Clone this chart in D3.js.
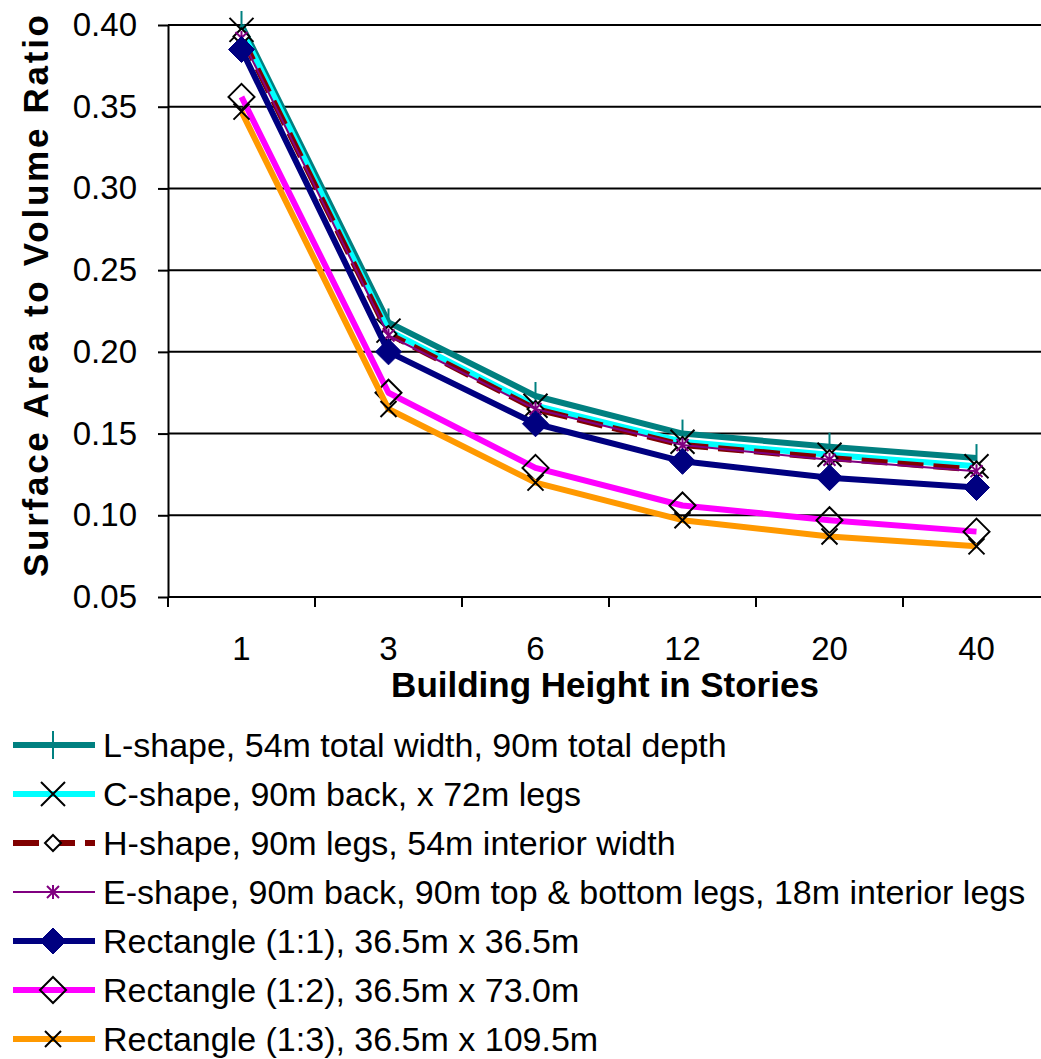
<!DOCTYPE html>
<html>
<head>
<meta charset="utf-8">
<script src="https://cdn.jsdelivr.net/npm/d3@7"></script>
<style>
  body { margin: 0; background: #fff; }
  svg { display: block; font-family: "Liberation Sans", Arial, sans-serif; }
</style>
</head>
<body>
<div id="chart"></div>
<script>
// categories and values
var stories = ["1", "3", "6", "12", "20", "40"];
var yTicks = [0.05, 0.10, 0.15, 0.20, 0.25, 0.30, 0.35, 0.40];

var lShape = [0.400, 0.218, 0.173, 0.150, 0.142, 0.135];
var cShape = [0.397, 0.213, 0.167, 0.145, 0.137, 0.130];
var hShape = [0.393, 0.211, 0.165, 0.143, 0.135, 0.128];
var eShape = [0.392, 0.210, 0.165, 0.143, 0.134, 0.127];
var rect11 = [0.385, 0.200, 0.156, 0.133, 0.123, 0.117];
var rect12 = [0.356, 0.175, 0.129, 0.106, 0.097, 0.090];
var rect13 = [0.347, 0.165, 0.120, 0.097, 0.087, 0.081];

var seriesNames = [
  "L-shape, 54m total width, 90m total depth",
  "C-shape, 90m back, x 72m legs",
  "H-shape, 90m legs, 54m interior width",
  "E-shape, 90m back, 90m top & bottom legs, 18m interior legs",
  "Rectangle (1:1), 36.5m x 36.5m",
  "Rectangle (1:2), 36.5m x 73.0m",
  "Rectangle (1:3), 36.5m x 109.5m"
];

var series = [
  { name: seriesNames[0], values: lShape, color: "#008080", width: 6, marker: "vbar" },
  { name: seriesNames[1], values: cShape, color: "#00ffff", width: 6, marker: "xbig" },
  { name: seriesNames[2], values: hShape, color: "#800000", width: 6, marker: "dsmall", dash: "26,10" },
  { name: seriesNames[3], values: eShape, color: "#800080", width: 2, marker: "star" },
  { name: seriesNames[4], values: rect11, color: "#000080", width: 6, marker: "dfill" },
  { name: seriesNames[5], values: rect12, color: "#ff00ff", width: 6, marker: "dopen" },
  { name: seriesNames[6], values: rect13, color: "#ff9900", width: 6, marker: "xsmall" }
];

var W = 1041, H = 1059;
var svg = d3.select("#chart").append("svg").attr("width", W).attr("height", H);

var x = d3.scaleBand().domain(stories).range([168, 1050]).padding(0);
var y = d3.scaleLinear().domain([0.05, 0.40]).range([597, 25]);

// gridlines
svg.append("g").selectAll("line").data(yTicks.slice(1)).enter().append("line")
  .attr("x1", 168).attr("x2", W)
  .attr("y1", function(d) { return y(d); }).attr("y2", function(d) { return y(d); })
  .attr("stroke", "#000").attr("stroke-width", 2);

// y axis
var yAxis = svg.append("g").attr("transform", "translate(168,0)")
  .call(d3.axisLeft(y).tickValues(yTicks).tickFormat(d3.format(".2f")).tickSizeInner(10).tickSizeOuter(0).tickPadding(21));
yAxis.select(".domain").attr("stroke", "#000").attr("stroke-width", 2);
yAxis.selectAll(".tick line").attr("stroke", "#000").attr("stroke-width", 2);
yAxis.selectAll("text").attr("font-size", 33).attr("fill", "#000").style("font-family", "Liberation Sans, Arial, sans-serif");

// x axis: ticks at category boundaries
var xg = svg.append("g").attr("transform", "translate(0,597)");
xg.append("line").attr("x1", 168).attr("x2", W).attr("stroke", "#000").attr("stroke-width", 2);
xg.selectAll(".bt").data(stories).enter().append("line").attr("class", "bt")
  .attr("x1", function(d) { return x(d); }).attr("x2", function(d) { return x(d); })
  .attr("y1", 0).attr("y2", 10).attr("stroke", "#000").attr("stroke-width", 2);
xg.selectAll(".lb").data(stories).enter().append("text").attr("class", "lb")
  .attr("x", function(d) { return x(d) + x.bandwidth() / 2; })
  .attr("y", 63).attr("text-anchor", "middle").attr("font-size", 33)
  .text(function(d) { return d; });

// axis titles
svg.append("text").attr("x", 605).attr("y", 697).attr("text-anchor", "middle")
  .attr("font-size", 35).attr("font-weight", "bold").text("Building Height in Stories");
svg.append("text").attr("transform", "translate(48,296) rotate(-90)").attr("text-anchor", "middle")
  .attr("font-size", 35).attr("font-weight", "bold")
  .attr("textLength", 562).attr("lengthAdjust", "spacing")
  .text("Surface Area to Volume Ratio");

function drawMarker(g, type, color, cx, cy) {
  var p;
  if (type === "vbar") {
    g.append("line").attr("x1", cx).attr("x2", cx).attr("y1", cy - 14).attr("y2", cy + 14)
      .attr("stroke", color).attr("stroke-width", 2);
  } else if (type === "xbig" || type === "xsmall") {
    var s = type === "xbig" ? 12 : 8;
    p = "M" + (cx - s) + "," + (cy - s) + "L" + (cx + s) + "," + (cy + s) +
        "M" + (cx - s) + "," + (cy + s) + "L" + (cx + s) + "," + (cy - s);
    g.append("path").attr("d", p).attr("stroke", "#000").attr("stroke-width", 2).attr("fill", "none");
  } else if (type === "dsmall" || type === "dopen" || type === "dfill") {
    var r = type === "dsmall" ? 8 : 13;
    p = "M" + cx + "," + (cy - r) + "L" + (cx + r) + "," + cy + "L" + cx + "," + (cy + r) + "L" + (cx - r) + "," + cy + "Z";
    if (type === "dfill") {
      g.append("path").attr("d", p).attr("fill", color).attr("stroke", color).attr("stroke-width", 1);
    } else {
      g.append("path").attr("d", p).attr("fill", type === "dsmall" ? "#fff" : "none")
        .attr("stroke", "#000").attr("stroke-width", 2);
    }
  } else if (type === "star") {
    var a = 6;
    p = "M" + (cx - a) + "," + (cy - a) + "L" + (cx + a) + "," + (cy + a) +
        "M" + (cx - a) + "," + (cy + a) + "L" + (cx + a) + "," + (cy - a) +
        "M" + cx + "," + (cy - a - 1) + "L" + cx + "," + (cy + a + 1);
    g.append("path").attr("d", p).attr("stroke", color).attr("stroke-width", 2).attr("fill", "none");
  }
}

var line = d3.line()
  .x(function(d, i) { return x(stories[i]) + x.bandwidth() / 2; })
  .y(function(d) { return y(d); });

series.forEach(function(s) {
  var g = svg.append("g");
  g.append("path").datum(s.values).attr("d", line)
    .attr("fill", "none").attr("stroke", s.color).attr("stroke-width", s.width)
    .attr("stroke-dasharray", s.dash || null).attr("stroke-linejoin", "round");
  s.values.forEach(function(v, i) {
    drawMarker(g, s.marker, s.color, x(stories[i]) + x.bandwidth() / 2, y(v));
  });
});

// legend
var legend = svg.append("g");
series.forEach(function(s, i) {
  var ly = 745 + i * 49;
  var g = legend.append("g");
  g.append("line").attr("x1", 13).attr("x2", 95).attr("y1", ly).attr("y2", ly)
    .attr("stroke", s.color).attr("stroke-width", s.width).attr("stroke-dasharray", s.dash || null);
  drawMarker(g, s.marker, s.color, 53, ly);
  g.append("text").attr("x", 103).attr("y", ly + 12).attr("font-size", 34).text(s.name);
});
</script>
</body>
</html>
